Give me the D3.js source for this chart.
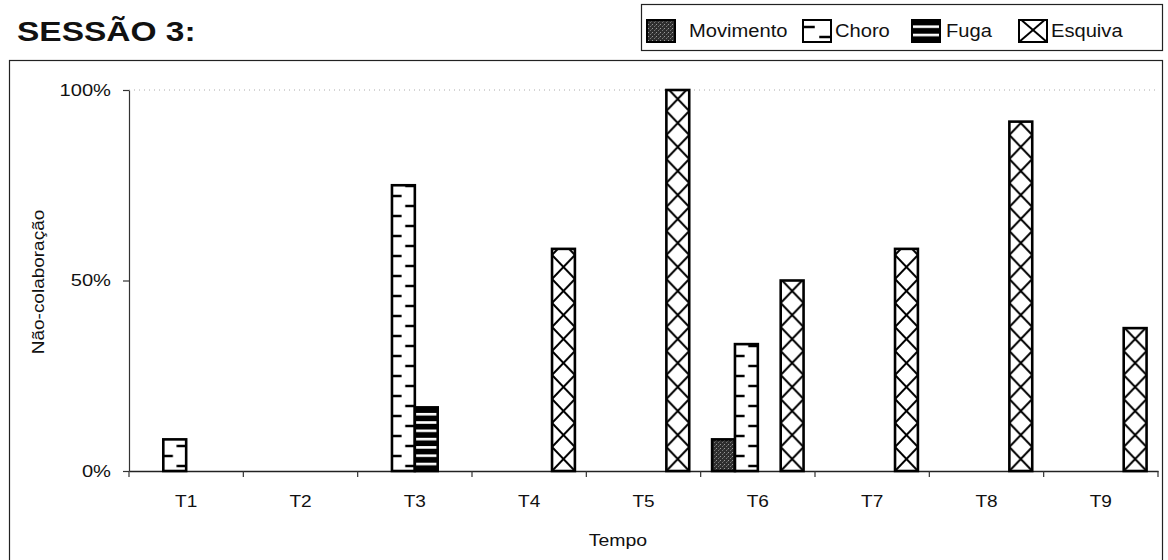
<!DOCTYPE html>
<html lang="pt">
<head>
<meta charset="utf-8">
<script src="https://d3js.org/d3.v7.min.js"></script>
<style>
  body { margin: 0; background: #fff; }
  text { font-family: Arial, "Liberation Sans", sans-serif; fill: #111; }
</style>
</head>
<body>
<script>
// data (percent of non-collaboration)
var categories = ["T1", "T2", "T3", "T4", "T5", "T6", "T7", "T8", "T9"];
var seriesNames = ["Movimento", "Choro", "Fuga", "Esquiva"];
var movimento = [0, 0, 0, 0, 0, 8.3, 0, 0, 0];
var choro     = [8.3, 0, 75, 0, 0, 33.3, 0, 0, 0];
var fuga      = [0, 0, 16.7, 0, 0, 0, 0, 0, 0];
var esquiva   = [0, 0, 0, 58.3, 100, 50, 58.3, 91.7, 37.5];
var yTicks = [0, 50, 100];

var seriesValues = [movimento, choro, fuga, esquiva];
var kinds = ["mov", "choro", "fuga", "esq"];

var width = 1168, height = 560;
var svg = d3.select("body").append("svg")
    .attr("width", width)
    .attr("height", height);
var defs = svg.append("defs");

// the scanned text is wider than plain Arial, stretch along the baseline
function stretch(sel, k) {
    sel.each(function () {
        var len = this.getComputedTextLength();
        d3.select(this).attr("textLength", len * k).attr("lengthAdjust", "spacingAndGlyphs");
    });
}

// fill patterns, one per bar so the motif lines up with the bar edges
var patCount = 0;
function makePattern(kind, bx, by, bw) {
    var id = "p" + (patCount++);
    var p = defs.append("pattern").attr("id", id).attr("patternUnits", "userSpaceOnUse");
    if (kind == "mov") {
        p.attr("width", 4).attr("height", 4);
        p.append("rect").attr("width", 4).attr("height", 4).attr("fill", "#2e2e2e");
        p.append("rect").attr("x", 0).attr("y", 0).attr("width", 1).attr("height", 1).attr("fill", "#9a9a9a");
        p.append("rect").attr("x", 2).attr("y", 2).attr("width", 1).attr("height", 1).attr("fill", "#777");
        p.append("rect").attr("x", 3).attr("y", 1).attr("width", 1).attr("height", 1).attr("fill", "#555");
    } else if (kind == "choro") {
        p.attr("x", bx).attr("y", by).attr("width", bw).attr("height", 20);
        p.append("rect").attr("width", bw).attr("height", 20).attr("fill", "#fff");
        p.append("line").attr("x1", 0).attr("x2", bw * 0.42).attr("y1", 5).attr("y2", 5)
            .attr("stroke", "#000").attr("stroke-width", 2.5);
        p.append("line").attr("x1", bw * 0.58).attr("x2", bw).attr("y1", 15).attr("y2", 15)
            .attr("stroke", "#000").attr("stroke-width", 2.5);
    } else if (kind == "fuga") {
        p.attr("x", bx).attr("y", by).attr("width", bw).attr("height", 8.3);
        p.append("rect").attr("width", bw).attr("height", 8.3).attr("fill", "#000");
        p.append("rect").attr("y", 0).attr("width", bw).attr("height", 2.6).attr("fill", "#fff");
    } else {
        p.attr("x", bx).attr("y", by).attr("width", bw).attr("height", 24);
        p.append("rect").attr("width", bw).attr("height", 24).attr("fill", "#fff");
        p.append("line").attr("x1", 0).attr("y1", 0).attr("x2", bw).attr("y2", 24)
            .attr("stroke", "#000").attr("stroke-width", 2);
        p.append("line").attr("x1", bw).attr("y1", 0).attr("x2", 0).attr("y2", 24)
            .attr("stroke", "#000").attr("stroke-width", 2);
    }
    return "url(#" + id + ")";
}

// outer chart frame
svg.append("rect")
    .attr("x", 9.5).attr("y", 60.5)
    .attr("width", 1153).attr("height", 520)
    .attr("fill", "none").attr("stroke", "#222").attr("stroke-width", 1.2);

// title
svg.append("text")
    .attr("x", 17).attr("y", 41)
    .style("font-size", "27px").style("font-weight", "bold")
    .text("SESSÃO 3:")
    .call(stretch, 1.24);

// legend
var legendX = [647, 803, 912, 1019];
var legendTextX = [689, 835, 946, 1051];
svg.append("rect")
    .attr("x", 641.5).attr("y", 4.5)
    .attr("width", 521).attr("height", 46)
    .attr("fill", "#fff").attr("stroke", "#222").attr("stroke-width", 1.2);
seriesNames.forEach(function (name, i) {
    var sx = legendX[i], sy = 20, sw = 28, sh = 22;
    svg.append("rect")
        .attr("x", sx).attr("y", sy).attr("width", sw).attr("height", sh)
        .attr("fill", makePattern(kinds[i], sx, sy + sh, sw))
        .attr("stroke", "#000").attr("stroke-width", 2);
    svg.append("text")
        .attr("x", legendTextX[i]).attr("y", 37)
        .style("font-size", "17.5px")
        .text(name)
        .call(stretch, 1.15);
});

// scales
var x0 = d3.scaleBand().domain(categories).range([129, 1158]).padding(0);
var x1 = d3.scaleBand().domain(seriesNames).range([0, x0.bandwidth()])
    .paddingInner(0).paddingOuter(0.5);
var y = d3.scaleLinear().domain([0, 100]).range([471, 90]);

// faint dotted line at the top of the plot area
svg.append("line")
    .attr("x1", 129).attr("x2", 1158)
    .attr("y1", y(100)).attr("y2", y(100))
    .attr("stroke", "#aaa").attr("stroke-width", 1).attr("stroke-dasharray", "1,4");

// y axis
var yAxis = svg.append("g")
    .attr("transform", "translate(129,0)")
    .call(d3.axisLeft(y).tickValues(yTicks).tickSize(6).tickSizeOuter(0).tickPadding(12)
        .tickFormat(function (d) { return d + "%"; }));
yAxis.select(".domain").attr("stroke", "#333").attr("stroke-width", 1.2);
yAxis.selectAll(".tick line").attr("stroke", "#333").attr("stroke-width", 1.2);
yAxis.selectAll(".tick text")
    .style("font-size", "16.5px").style("font-family", "Arial, 'Liberation Sans', sans-serif").attr("fill", "#111")
    .call(stretch, 1.22);

// x axis, labels centred, ticks at category boundaries
var xAxis = svg.append("g")
    .attr("transform", "translate(0," + y(0) + ")")
    .call(d3.axisBottom(x0).tickSize(0).tickSizeOuter(0).tickPadding(24));
xAxis.select(".domain").attr("stroke", "#222").attr("stroke-width", 1.6);
xAxis.selectAll(".tick text")
    .style("font-size", "17px").style("font-family", "Arial, 'Liberation Sans', sans-serif").attr("fill", "#111")
    .call(stretch, 1.12);
var bounds = categories.map(function (c) { return x0(c); }).concat([x0.range()[1]]);
svg.append("g").selectAll("line")
    .data(bounds)
    .enter()
    .append("line")
    .attr("x1", function (d) { return d; }).attr("x2", function (d) { return d; })
    .attr("y1", y(0)).attr("y2", y(0) + 6)
    .attr("stroke", "#333").attr("stroke-width", 1.2);

// bars
var bars = svg.append("g");
seriesNames.forEach(function (name, s) {
    seriesValues[s].forEach(function (v, i) {
        if (!v) return;
        var bx = x0(categories[i]) + x1(name);
        var bw = x1.bandwidth();
        bars.append("rect")
            .attr("x", bx)
            .attr("y", y(v))
            .attr("width", bw)
            .attr("height", y(0) - y(v))
            .attr("fill", makePattern(kinds[s], bx, y(0), bw))
            .attr("stroke", "#000")
            .attr("stroke-width", 2.6);
    });
});

// axis titles
svg.append("text")
    .attr("x", 618).attr("y", 546)
    .attr("text-anchor", "middle")
    .style("font-size", "16.5px")
    .text("Tempo")
    .call(stretch, 1.18);

svg.append("text")
    .attr("transform", "translate(44,282) rotate(-90)")
    .attr("text-anchor", "middle")
    .style("font-size", "16.5px")
    .text("Não-colaboração")
    .call(stretch, 1.15);
</script>
</body>
</html>
